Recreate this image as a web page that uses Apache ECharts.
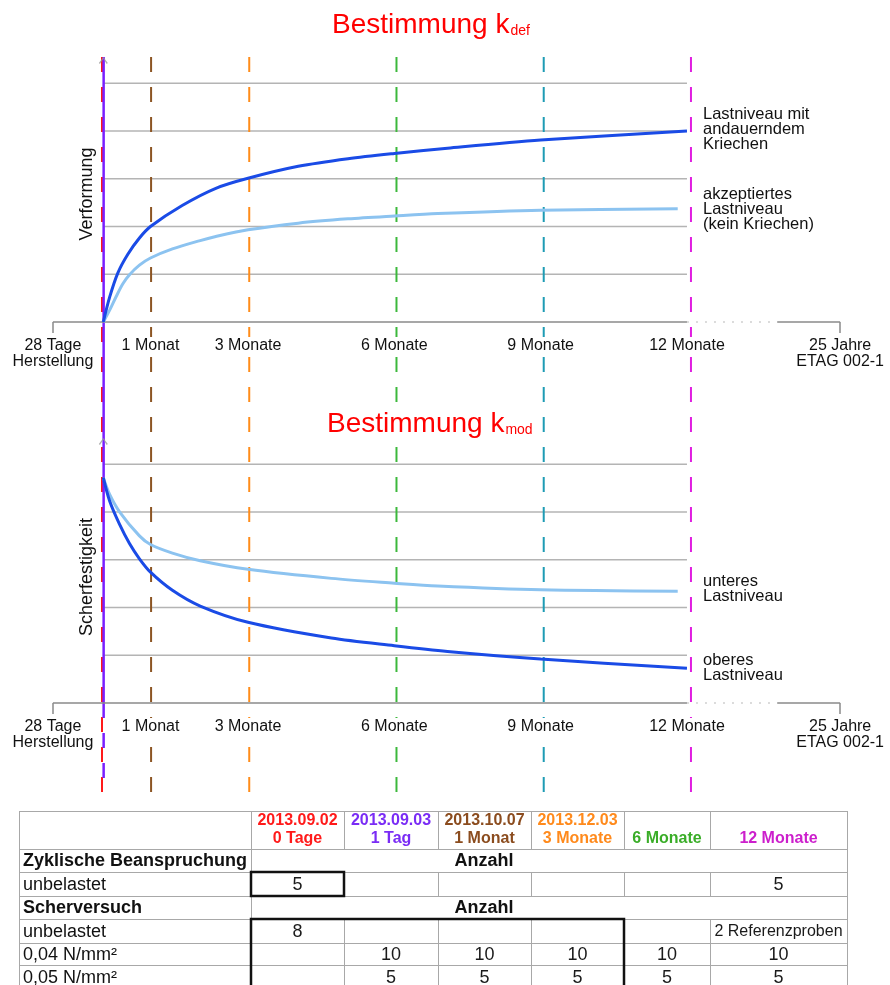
<!DOCTYPE html>
<html><head><meta charset="utf-8">
<script src="https://cdn.jsdelivr.net/npm/echarts@6/dist/echarts.min.js"></script>
<style>html,body{margin:0;padding:0;background:#fff}#chart{width:890px;height:985px}</style>
</head><body><div id="chart"></div>
<script>
// ---------------- data ----------------
const xMinMonths = -1;
const xMaxMonths = 15.14;               // broken axis end: "25 Jahre"
const tickMonths = [-1, 1, 3, 6, 9, 12, 15.14];
const tickLabels = ['28 Tage\nHerstellung', '1 Monat', '3 Monate', '6 Monate', '9 Monate', '12 Monate', '25 Jahre\nETAG 002-1'];
const markerMonths = [0, 1/30, 1, 3, 6, 9, 12];
const markerNames = ['0 Tage', '1 Tag', '1 Monat', '3 Monate', '6 Monate', '9 Monate', '12 Monate'];
const gridLevels = [1, 2, 3, 4, 5];
const yMaxLevel = 5.55;
const axisSolidSegments = [[-1, 12], [13.85, 15.14]];
const axisDottedSegments = [[12, 13.83]];

// Bestimmung k_def  (Verformung)
const kdefCreep = [[0.033,0],[0.163,0.52],[0.332,1.03],[0.536,1.42],[0.774,1.76],[1,2.0],[1.65,2.44],[2.34,2.8],[3,3.01],[4.03,3.26],[5.05,3.42],[6,3.53],[7.09,3.64],[9,3.81],[12,4.0]];
const kdefAccepted = [[0.033,0],[0.163,0.25],[0.3,0.54],[0.434,0.8],[0.57,0.99],[0.774,1.19],[1,1.34],[1.45,1.53],[2.0,1.7],[2.34,1.79],[3,1.93],[4.03,2.07],[5.05,2.16],[6,2.22],[6.89,2.27],[9,2.34],[11.81,2.37]];
// Bestimmung k_mod  (Scherfestigkeit)
const kmodLower = [[0.033,4.72],[0.163,4.37],[0.37,4.0],[0.774,3.5],[1,3.32],[1.45,3.14],[2.02,2.98],[3,2.8],[4.71,2.61],[6,2.51],[6.89,2.45],[9,2.37],[11.81,2.34]];
const kmodUpper = [[0.033,4.72],[0.163,4.23],[0.367,3.74],[0.57,3.34],[0.774,3.02],[1,2.74],[1.45,2.36],[2.02,2.03],[3,1.69],[4.71,1.36],[6,1.2],[7.09,1.08],[9,0.92],[12,0.73]];

const kdefLabels = ['Lastniveau mit\nandauerndem\nKriechen', 'akzeptiertes\nLastniveau\n(kein Kriechen)'];
const kmodLabels = ['unteres\nLastniveau', 'oberes\nLastniveau'];

// table
const headerDates = ['2013.09.02', '2013.09.03', '2013.10.07', '2013.12.03', '', ''];
const headerAges = ['0 Tage', '1 Tag', '1 Monat', '3 Monate', '6 Monate', '12 Monate'];
const rowLabels = ['Zyklische Beanspruchung', 'unbelastet', 'Scherversuch', 'unbelastet', '0,04 N/mm²', '0,05 N/mm²'];
const sectionRows = [true, false, true, false, false, false];
const sectionText = 'Anzahl';
const cellValues = [
  [],
  ['5', '', '', '', '', '5'],
  [],
  ['8', '', '', '', '', '2 Referenzproben'],
  ['', '10', '10', '10', '10', '10'],
  ['', '5', '5', '5', '5', '5']
];

// ---------------- layout / style ----------------
const FONT = "'Liberation Sans', Arial, sans-serif";
const GL = 52.92, GW = 792.15;
const TOP = {top: 57, height: 265};
const BOT = {top: 438, height: 265};
const OVL = {top: 57, height: 736};
const markerColors = ['#ff1a1a', '#7a1fff', '#8c5523', '#ff8c1a', '#3cb83c', '#1e9bb4', '#e01ee0'];
const headerColors = ['#ff1a1a', '#7a2cf5', '#8b4c1e', '#ff8a1c', '#3aad28', '#cc1fcc'];
const DARK = '#1a4be6', LIGHT = '#8cc3f0';

function tickLabel(v) {
  for (let i = 0; i < tickMonths.length; i++) if (Math.abs(tickMonths[i] - v) < 1e-6) return tickLabels[i];
  return '';
}

function xAxisFor(i) {
  return {
    type: 'value', gridIndex: i, min: xMinMonths, max: xMaxMonths, z: 10,
    axisLine: {show: false}, splitLine: {show: false},
    axisTick: {show: true, customValues: [xMinMonths, xMaxMonths], length: 11, lineStyle: {color: '#8a8a8a', width: 1.5}},
    axisLabel: {
      customValues: tickMonths, formatter: tickLabel, showMinLabel: true, showMaxLabel: true,
      fontSize: 16, lineHeight: 16, color: '#111', fontFamily: FONT, margin: 15,
      backgroundColor: '#fff', padding: [1, 3, 1, 3]
    }
  };
}

function chartSeries(i, curves) {
  const s = [];
  gridLevels.forEach(v => s.push({
    type: 'line', xAxisIndex: i, yAxisIndex: i, data: [[markerMonths[1], v], [12, v]],
    symbol: 'none', silent: true, z: 1, lineStyle: {color: '#b4b4b4', width: 1.5}
  }));
  axisSolidSegments.forEach(seg => s.push({
    type: 'line', xAxisIndex: i, yAxisIndex: i, data: [[seg[0], 0], [seg[1], 0]], clip: false,
    symbol: 'none', silent: true, z: 3, lineStyle: {color: '#8a8a8a', width: 1.5}
  }));
  axisDottedSegments.forEach(seg => s.push({
    type: 'line', xAxisIndex: i, yAxisIndex: i, data: [[seg[0], 0], [seg[1], 0]], clip: false,
    symbol: 'none', silent: true, z: 3, lineStyle: {color: '#b8b8b8', width: 1.2, type: [2, 7]}
  }));
  curves.forEach(c => s.push({
    type: 'line', name: c.name, xAxisIndex: i, yAxisIndex: i, data: c.data, smooth: 0.3,
    symbol: 'none', silent: true, z: 5, lineStyle: {color: c.color, width: 3}
  }));
  s.push({
    type: 'scatter', xAxisIndex: i, yAxisIndex: i, data: [[markerMonths[1], yMaxLevel]], clip: false,
    symbol: 'path://M0,6L4,0L8,6L7,7L4,1.8L1,7Z', symbolSize: [9, 7], symbolOffset: [0, 3.5],
    itemStyle: {color: '#9a9a9a'}, silent: true, z: 6
  });
  return s;
}

const purpleBreak = (OVL.top + OVL.height - (BOT.top + BOT.height)) / OVL.height;
const overlaySeries = [];
markerMonths.forEach((m, k) => {
  if (k === 1) {
    overlaySeries.push({type: 'line', name: markerNames[k], xAxisIndex: 2, yAxisIndex: 2, data: [[m, 1], [m, purpleBreak]],
      symbol: 'none', silent: true, z: 3, clip: false, lineStyle: {color: markerColors[k], width: 2.5}});
    overlaySeries.push({type: 'line', xAxisIndex: 2, yAxisIndex: 2, data: [[m, purpleBreak], [m, 0]],
      symbol: 'none', silent: true, z: 3, clip: false, lineStyle: {color: markerColors[k], width: 2.5, type: [15, 15]}});
  } else {
    overlaySeries.push({type: 'line', name: markerNames[k], xAxisIndex: 2, yAxisIndex: 2, data: [[m, 1], [m, 0]],
      symbol: 'none', silent: true, z: 2, clip: false, lineStyle: {color: markerColors[k], width: 2, type: [15, 15]}});
  }
});

// ---------------- graphics: annotations + table ----------------
const G = [];
function txt(x, y, text, o) {
  o = o || {};
  G.push({type: 'text', x: x, y: y, rotation: o.rotation || 0, z: 20, silent: true,
    style: {text: text, fill: o.color || '#111', fontSize: o.size || 16, fontWeight: o.bold ? 'bold' : 'normal',
      fontFamily: FONT, lineHeight: o.lh || undefined, align: o.align || 'left', verticalAlign: o.valign || 'middle',
      textAlign: o.align || 'left', textVerticalAlign: o.valign || 'middle'}});
}
function ln(x1, y1, x2, y2, color, w) {
  G.push({type: 'line', silent: true, z: 15, shape: {x1, y1, x2, y2}, style: {stroke: color, lineWidth: w}});
}

txt(87, 194, 'Verformung', {size: 18, align: 'center', rotation: Math.PI / 2});
txt(87, 577, 'Scherfestigkeit', {size: 18, align: 'center', rotation: Math.PI / 2});
txt(703, 107, kdefLabels[0], {size: 16.5, lh: 15, valign: 'top'});
txt(703, 187, kdefLabels[1], {size: 16.5, lh: 15, valign: 'top'});
txt(703, 574, kmodLabels[0], {size: 16.5, lh: 15, valign: 'top'});
txt(703, 653, kmodLabels[1], {size: 16.5, lh: 15, valign: 'top'});

const colX = [19, 251, 344, 438, 531, 624, 710, 847];
const rowY = [811, 849, 872, 896, 919, 943, 965, 990];
const GRAY = '#a8a8a8';
rowY.forEach(y => ln(colX[0], y + 0.5, colX[7], y + 0.5, GRAY, 1));
[0, 1, 7].forEach(c => ln(colX[c] + 0.5, rowY[0], colX[c] + 0.5, rowY[7], GRAY, 1));
for (let c = 2; c <= 6; c++) {
  ln(colX[c] + 0.5, rowY[0], colX[c] + 0.5, rowY[1], GRAY, 1);
  for (let r = 0; r < rowLabels.length; r++) {
    if (!sectionRows[r]) ln(colX[c] + 0.5, rowY[r + 1], colX[c] + 0.5, rowY[r + 2], GRAY, 1);
  }
}
// header
headerAges.forEach((a, c) => {
  const cx = (colX[c + 1] + colX[c + 2]) / 2;
  if (headerDates[c]) txt(cx, 821, headerDates[c], {size: 16, bold: true, color: headerColors[c], align: 'center'});
  txt(cx, 839, a, {size: 16, bold: true, color: headerColors[c], align: 'center'});
});
// rows
rowLabels.forEach((lab, r) => {
  const cy = (rowY[r + 1] + rowY[r + 2]) / 2 + 1;
  txt(23, cy, lab, {size: 18, bold: sectionRows[r]});
  if (sectionRows[r]) txt(484, cy, sectionText, {size: 18, bold: true, align: 'center'});
  (cellValues[r] || []).forEach((v, c) => {
    if (!v) return;
    const cx = (colX[c + 1] + colX[c + 2]) / 2;
    txt(cx, cy, v, {size: v.length > 3 ? 16 : 18, align: 'center', color: '#1a1a1a'});
  });
});
// thick frames
G.push({type: 'rect', silent: true, z: 16, shape: {x: colX[1], y: rowY[2], width: colX[2] - colX[1], height: rowY[3] - rowY[2]},
  style: {fill: 'none', stroke: '#111', lineWidth: 2.5}});
G.push({type: 'polyline', silent: true, z: 16, shape: {points: [[colX[1], rowY[7]], [colX[1], rowY[4]], [colX[5], rowY[4]], [colX[5], rowY[7]]]},
  style: {fill: 'none', stroke: '#111', lineWidth: 2.5}});

// ---------------- option ----------------
const titleRich = {
  a: {fontSize: 28, fontWeight: 'normal', color: '#ff0000', fontFamily: FONT, lineHeight: 30},
  b: {fontSize: 14, fontWeight: 'normal', color: '#ff0000', fontFamily: FONT, lineHeight: 14, verticalAlign: 'bottom', padding: [0, 0, 2, 1]}
};
const option = {
  backgroundColor: '#fff',
  animation: false,
  title: [
    {text: '{a|Bestimmung k}{b|def}', left: 330, top: 10, padding: [0, 2, 0, 2], backgroundColor: '#fff', textStyle: {fontWeight: 'normal', rich: titleRich}},
    {text: '{a|Bestimmung k}{b|mod}', left: 325, top: 409, padding: [0, 2, 0, 2], backgroundColor: '#fff', textStyle: {fontWeight: 'normal', rich: titleRich}}
  ],
  grid: [
    {left: GL, width: GW, top: TOP.top, height: TOP.height},
    {left: GL, width: GW, top: BOT.top, height: BOT.height},
    {left: GL, width: GW, top: OVL.top, height: OVL.height}
  ],
  xAxis: [xAxisFor(0), xAxisFor(1),
    {type: 'value', gridIndex: 2, min: xMinMonths, max: xMaxMonths, show: false}],
  yAxis: [
    {type: 'value', gridIndex: 0, min: 0, max: yMaxLevel, show: false},
    {type: 'value', gridIndex: 1, min: 0, max: yMaxLevel, show: false},
    {type: 'value', gridIndex: 2, min: 0, max: 1, show: false}
  ],
  series: [].concat(
    overlaySeries,
    chartSeries(0, [{name: 'akzeptiertes Lastniveau', data: kdefAccepted, color: LIGHT}, {name: 'Lastniveau mit andauerndem Kriechen', data: kdefCreep, color: DARK}]),
    chartSeries(1, [{name: 'unteres Lastniveau', data: kmodLower, color: LIGHT}, {name: 'oberes Lastniveau', data: kmodUpper, color: DARK}])
  ),
  graphic: G
};
const chart = echarts.init(document.getElementById('chart'), null, {renderer: 'canvas'});
chart.setOption(option);
</script>
</body></html>
